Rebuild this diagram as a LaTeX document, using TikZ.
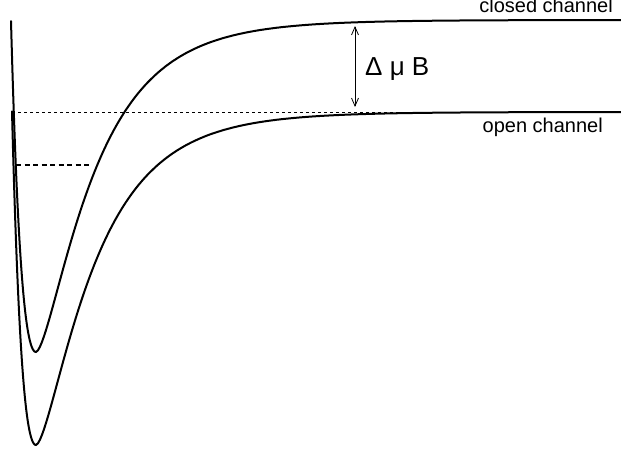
\documentclass[tikz,border=0pt]{standalone}
\usepackage{fontspec}
\setmainfont{Liberation Sans}
\usetikzlibrary{arrows.meta}
\begin{document}
\begin{tikzpicture}[x=1pt,y=-1pt,
  curve/.style={line width=2pt, line join=round, line cap=round},
  asym/.style={line width=0.8pt, dash pattern=on 3pt off 3pt},
  bound/.style={line width=2pt, dash pattern=on 5pt off 3.5pt},
  gap/.style={line width=0.8pt, {Straight Barb[length=8pt,width=7pt]}-{Straight Barb[length=8pt,width=7pt]}},
  lab/.style={font=\fontsize{20}{24}\selectfont, inner sep=0pt},
  biglab/.style={font=\fontsize{26}{30}\selectfont, inner sep=0pt},
  declare function={
    uL(\t,\a)=exp(-\a*\t);
    uR(\t)=exp(-0.042*pow(\t,0.85));
    V(\u)=2*\u-\u*\u;
  }]
\useasboundingbox (0,0) rectangle (621,452);

% asymptote of open channel (dotted)
\coordinate (dotL) at (12,112);
\coordinate (dotR) at (621,112);
\draw[asym] (dotL) -- (dotR);

% closed channel potential
\draw[curve] plot[domain=-25:0, samples=60] ({36+\x},{20+332*V(uL(\x,0.0277))})
  -- plot[domain=0.001:585, samples=300] ({36+\x},{20+332*V(uR(\x))});

% open channel potential
\draw[curve] plot[domain=-24:0, samples=60] ({36+\x},{112+333*V(uL(\x,0.0289))})
  -- plot[domain=0.001:585, samples=300] ({36+\x},{112+333*V(uR(\x))});

% bound state
\coordinate (bL) at (16,165);
\coordinate (bR) at (92,165);
\draw[bound] (bL) -- (bR);

% energy gap arrow
\coordinate (gapT) at (355,26);
\coordinate (gapB) at (355,107);
\draw[gap] (gapT) -- (gapB);
\node[biglab, anchor=base west] (dmub) at (365,76) {Δ μ B};

% labels
\node[lab, anchor=base east] (closedlab) at (613,13) {closed channel};
\node[lab, anchor=base east] (openlab) at (603,132) {open channel};
\end{tikzpicture}
\end{document}
